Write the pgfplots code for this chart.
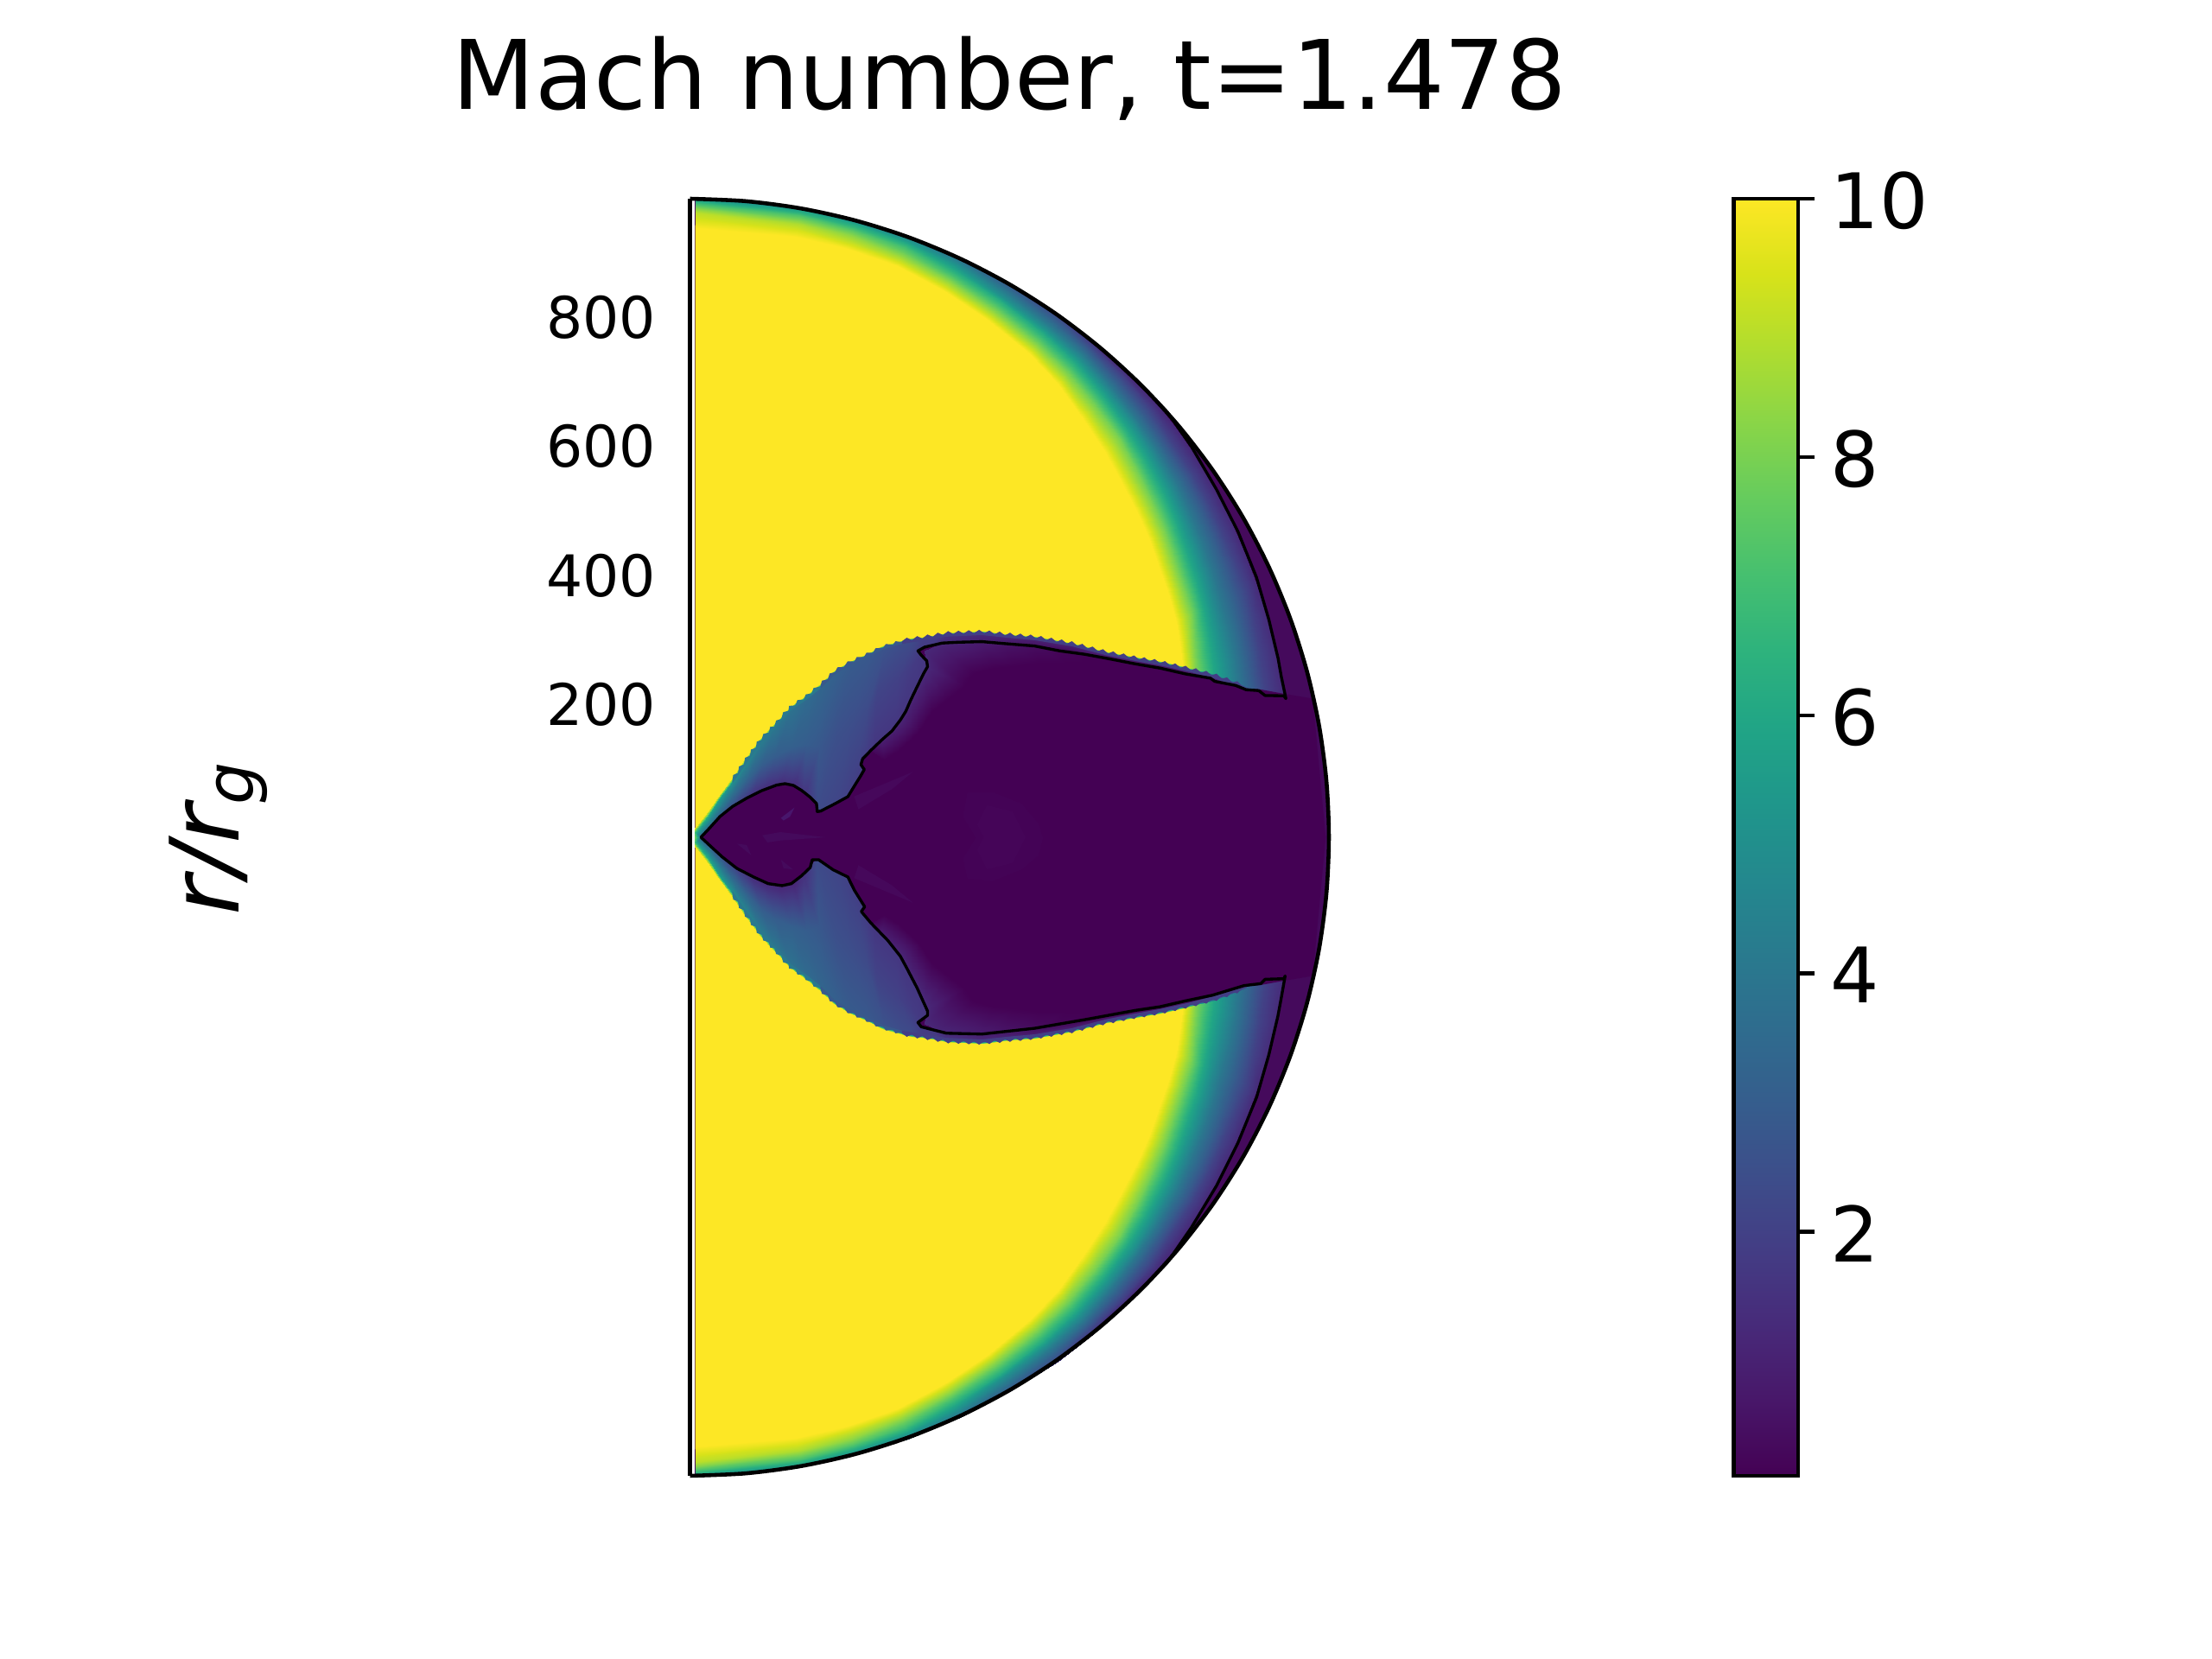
\documentclass[border=0pt]{standalone}
\usepackage{fontspec}
\setmainfont{DejaVu Sans}
\usepackage{pgfplots}
\usepackage{pgfplotstable}
\pgfplotsset{compat=1.18}
\definecolor{vdark}{HTML}{440154}
\definecolor{vbase}{HTML}{450A5C}
\definecolor{vyel}{HTML}{FDE725}

% outline of the domain: polar angle, radius
\pgfplotstableread{
t r
90 990
85 990
80 990
75 990
70 990
65 990
60 990
55 990
50 990
45 990
40 990
35 990
30 990
25 990
20 990
15 990
10 990
5 990
0 990
-5 990
-10 990
-15 990
-20 990
-25 990
-30 990
-35 990
-40 990
-45 990
-50 990
-55 990
-60 990
-65 990
-70 990
-75 990
-80 990
-85 990
-90 990
}\arcT

% region where the Mach number saturates at 10
\pgfplotstableread{
t r
89.5 949
80 949
75 948
70 946
65 938
60 929
55 919
51 909
47 894
43 882
40 871
36 861
33 852
30 842
27 835
24 829
21 818
18 808
13 794
5 780
-5 780
-13 794
-18 808
-21 818
-24 829
-27 835
-30 842
-33 852
-36 861
-40 871
-43 882
-47 894
-51 909
-55 919
-60 929
-65 938
-70 946
-75 948
-80 949
-89.5 949
}\yelT

% shocked ambient shell: polar angle, radius, Mach number
\pgfplotstableread{
t r m
89.5 945 10
89.5 960 9.3
89.5 968 9
89.5 975 8.2
89.5 981 7.3
89.5 985 6.6
89.5 988 6
89.5 992 5.2
80 945 10
80 958 9.3
80 966 8.8
80 973 8
80 979 7.2
80 984 6.4
80 987.5 5.8
80 992 5
75 944 10
75 957 9
75 966 8.3
75 973 7.5
75 979 6.7
75 984 6
75 987.5 5.4
75 992 4.6
70 942 10
70 955 8.8
70 965 7.8
70 973 7
70 979 6.2
70 984 5.5
70 987.5 5
70 992 4.2
65 934 10
65 950 8.4
65 962 7
65 971 6
65 978 5.2
65 983 4.6
65 987 4
65 992 3.3
60 925 10
60 945 8
60 960 6.3
60 969 5
60 976 4.2
60 982 3.6
60 987 3.1
60 992 2.5
55 915 10
55 936 8
55 954 6.2
55 962 5
55 970 4.1
55 978 3.3
55 986 2.6
55 992 1.8
51 905 10
51 928 8
51 948 6
51 956 5
51 966 4
51 976 3
51 985 2
51 992 1
47 890 10
47 917 8
47 938 6
47 947 5
47 957 4
47 968 3
47 980 2
47 990 1.1
43 878 10
43 908 8
43 928 6
43 938 5
43 948 4
43 960 3
43 974 2
43 988 1.2
40 867 10
40 897 8
40 919 6
40 930 5
40 941 4
40 954 3
40 968 2
40 984 1.2
36 857 10
36 885 8
36 908 6
36 920 5
36 932 4
36 948 3
36 962 2
36 980 1.2
33 848 10
33 875 8
33 898 6
33 911 5
33 924 4
33 941 3
33 957 2
33 975 1.25
30 838 10
30 865 8
30 888 6
30 902 5
30 916 4
30 934 3
30 952 2
30 970 1.3
27 831 10
27 857 8
27 879 6
27 893 5
27 908 4
27 928 3
27 948 2
27 966 1.3
24 825 10
24 850 8
24 871 6
24 885 5
24 901 4
24 923 3
24 944 2
24 961 1.3
21 814 10
21 837 8
21 861 6
21 877 5
21 895 4
21 915 3
21 936 2
21 957 1.3
18 804 10
18 825 8
18 852 6
18 870 5
18 889 4
18 908 3
18 929 2
18 953 1.3
13 790 10
13 812 8
13 838 6
13 856 5
13 876 4
13 897 3
13 918 2
13 945 1.3
}\bandT

% dark body behind the bow shock (upper half)
\pgfplotstableread{
x y
4 0.5
7.7 7.6
27.2 32.2
46.6 60.3
66.1 85.8
88.9 119.3
111.6 150.5
131.1 170.6
157.1 199.7
183 217.5
202.5 233.2
225.3 255.5
248 268.9
277.2 282.3
300 293.5
329.2 302.4
364.9 307.8
397.4 313.6
452.6 315.8
494.8 311.3
533.8 307.8
592.2 298
644.2 284.5
689.6 275.6
728.6 268.9
774.1 258.6
813.1 248.8
861.8 231
885 229
923 222
965 215
985 0
985 -2
4 -2
}\bodyT

% shocked gas between bow shock and contact surface
\pgfplotstableread{
x y m
3 1 10
4 0.5 9
10 0.3 7
17 0 4
4 10 10
7.7 7.6 7
12 5 5
17.4 0.4 3
23.5 34.5 10
27.2 32.2 6.2
29 23 4.5
32 10 2.5
43 62.5 10
46.6 60.3 5.6
47 46 4
50 25 2
62.5 88 10
66.1 85.8 5
66 67 3.6
70 40 1.6
85 121.5 10
88.9 119.3 4.6
89 90 3.2
92 52 1.1
108 153 10
111.6 150.5 4.2
112 112 3
114 62 0.9
127.5 173.5 10
131.1 170.6 4
132 126 3
136 68 0.9
154 202.5 10
157.1 199.7 3.8
158 140 3.1
158 67 1
180 220.5 10
183 217.5 3.5
180 145 3
175 55 1.4
200 236.5 10
202.5 233.2 3.3
200 140 2.8
196 33 2.3
223 259 10
225.3 255.5 3.1
225 155 2.5
228 45 2.1
246 272 10
248 268.9 2.9
247 165 2.4
247 55 1.9
275.5 286 10
277.2 282.3 2.8
272 190 2.3
268 90 1.7
298.5 297 10
300 293.5 2.6
290 225 2.1
284 128 1.6
328 306 10
329.2 302.4 2.4
320 245 2
316 160 1.6
344 309 10
345 305 2.3
348 270 1.8
356 225 1.6
359 311 10
360 307 1.9
364 285 1.7
375 262 1.5
385 315 10
385 311 1.8
384 302 1.5
385 292 1.2
397.4 317.6 10
397.4 313.6 1.5
397.4 305 1.3
397.4 292 1.1
452.6 319.8 10
452.6 315.8 1.2
452.6 308 1
452.6 295 0.8
494.8 315.3 10
494.8 311.3 1.1
494.8 304 0.8
494.8 293 0.6
533.8 311.8 10
533.8 307.8 1
533.8 300 0.6
533.8 289 0.4
592.2 302 10
592.2 298 1
592.2 290 0.4
592.2 277 0.2
644.2 288.5 10
644.2 284.5 1
644.2 277 0.3
644.2 269 0.15
689.6 279.6 10
689.6 275.6 1
689.6 269 0.2
689.6 261 0.11
728.6 272.9 10
728.6 268.9 1
728.6 262 0.2
728.6 255 0.11
774.1 262.6 9
774.1 258.6 1.1
774.1 252 0.2
774.1 246 0.11
813.1 252.8 6
813.1 248.8 1.2
813.1 242 0.2
813.1 235 0.11
861.8 235 3.5
861.8 231 1.2
861.8 226 0.2
861.8 220 0.11
}\stripT

% sawtooth cells along the bow shock
\pgfplotstableread{
x y
65.5 86.5
67 96.6
74.5 99.7
76 109.8
83.5 112.9
85.4 123.3
93 126.3
94.5 136
102.2 138.8
103.5 148.3
111.1 151
113.5 160
122.2 162.5
124.5 171.5
130.6 171.1
133.5 181
141.5 183.5
144.5 194
152.5 196
153.6 203.7
163.1 204.5
166.5 212.7
176.2 213.5
179.5 221.5
188.5 223.1
191.5 231.4
202 233.7
202.5 231
183 215
157 197
131 168
111.6 148
89 117
66 83.5
}\teethA
\pgfplotstableread{
x y
202 233.7
204.5 242.8
213.5 245
216.5 254
224.8 256
228.5 263.5
238.5 264.1
244.5 272.9
254.5 272.5
258.5 279.5
269.5 279.5
273.7 286.3
283.5 286.2
287.5 293
299.5 294
303.5 299.7
314.5 298.5
318.5 304
329.2 302.4
329.2 300
300 291.5
277 280
248 266.5
225 253
202.5 231
}\teethB
\pgfplotstableread{
x y
328 303.5
336 309.4
344 305.6
352 311.9
360 308.1
368 314.4
376 310.8
384 317.2
392 313.6
400 319.7
408 315
416 320.3
424 315.7
432 321
440 316.3
448 321.6
456 316.4
464 320.6
472 314.7
480 318.9
488 313
496 317.2
504 311.5
512 315.8
520 310
528 314.3
536 308.4
544 312.1
552 305.7
560 309.4
568 303
576 306.7
584 300.3
592 304
600 297
608 299.9
616 292.8
624 295.7
632 288.7
640 291.6
648 284.8
656 288.2
664 281.6
672 285
680 278.5
688 281.9
696 275.5
704 279.1
712 272.8
720 276.4
728 270
736 273.2
744 266.3
752 269.5
760 262.7
768 265.9
776 259
784 262
792 255
800 258
808 251
816 253.7
824 245.8
832 247.9
840 240
848 242
856 234
862 231
862 228
813 246
774 256.5
728 266.5
689 273.5
644 282.5
592 296
534 305.5
495 309
452 313.5
397 311
365 305.5
329 300
}\teethC

% fade just inside the contact surface
\pgfplotstableread{
x y m
280.5 134.9 0.3
300 120 0.11
296.7 150.5 0.9
325 135 0.11
326 181.8 1.1
355 165 0.11
342.2 213.1 1.1
375 195 0.11
361.7 253.3 1.2
400 215 0.11
368.1 264.4 1.2
425 235 0.11
364 290 1.2
432 245 0.11
385 299 1.1
440 255 0.11
416.9 302.4 1
470 262 0.11
452.6 303.3 0.8
500 265 0.11
488.3 300.2 0.6
540 270 0.11
533.8 296.6 0.4
580 270 0.11
572.8 289 0.2
610 270 0.11
611.7 283.7 0.11
640 268 0.11
}\haloT

% Mach = 1 contour
\pgfplotstableread{
x y
691.2 709.1
739 659.9
777.3 605.2
815.6 539.6
849.1 473.9
877.8 402.9
897 337.2
911.3 277.1
916.1 249.7
923.4 214.9
920.2 219.3
891 219.8
881.3 227.4
861.8 228.7
845.5 235.4
813.1 241.7
806.6 246.6
767.6 253.3
728.6 262.2
689.6 268.9
650.7 276.5
611.7 283.7
572.8 289
533.8 296.6
488.3 300.2
452.6 303.3
416.9 302.4
390.9 301.1
363.6 294.8
353.2 289
358.4 282.3
366.9 273.4
368.1 264.4
361.7 253.3
351.9 233.2
342.2 213.1
334.4 195.2
326 181.8
313 164.8
296.7 150.5
280.5 134.9
267.5 121.5
264.9 112.6
270.1 105
264.2 94.7
254.5 79.1
244.7 63
225.3 52.3
202.5 40.6
197.3 39.8
196 52.3
186.3 62.1
173.3 72.4
160.3 80.4
147.3 83.1
134.3 80.9
111.6 72.4
88.9 61.2
66.1 47.8
46.6 32.2
30.4 14.3
17.4 0.4
17.4 -0.4
30.4 -12.5
49.9 -30.4
72.6 -48.2
98.6 -61.6
121.3 -71.9
142.8 -75
157.1 -71.9
173.3 -59.4
186.3 -46.9
189.5 -34.8
199.3 -34.8
222 -50.5
244.7 -61.6
254.5 -81.7
270.7 -107.7
265.5 -115.2
280.5 -133.1
306.5 -159.9
326 -184.5
335.7 -202.4
351.9 -233.6
368.1 -269.4
368.1 -276.1
353.2 -287.2
358.4 -293.9
397.4 -303.8
452.6 -305.1
533.8 -296.2
611.7 -282.8
689.6 -268.5
728.6 -262.7
767.6 -253.7
809.8 -244.8
858.5 -230
884.5 -226.9
891 -220.2
920.2 -219.3
922.2 -214.9
916 -250
911 -277
897 -337
878 -403
849 -474
816 -540
777 -605
739 -660
691 -709
}\contourT

% colour bar field
\pgfplotstableread{
x y m
0 0.11 0.11
1 0.11 0.11
0 10 10
1 10 10
}\cbarT

\begin{document}
\begin{tikzpicture}[x=1cm,y=1cm]
\useasboundingbox (0,0) rectangle (25.6,19.2);
\node[anchor=base,font=\fontsize{31.6}{36}\selectfont] at (11.685,17.93) {Mach number, t=1.478};
\node[rotate=90,anchor=base,font=\fontsize{31.5}{36}\selectfont\itshape] at (2.767,9.49) {r/r\raisebox{-4.8pt}{\fontsize{22}{24}\selectfont g}};
\begin{axis}[
  at={(7.985cm,2.12cm)}, anchor=south west,
  scale only axis, width=7.395cm, height=14.78cm,
  xmin=0, xmax=990, ymin=-990, ymax=990,
  clip=false,
  axis line style={draw=none},
  xtick=\empty,
  ytick={200,400,600,800},
  major tick length=0pt,
  tick style={draw=none},
  /pgf/number format/assume math mode=true,
  yticklabel style={font=\fontsize{18.9}{22}\selectfont,inner sep=0pt,xshift=-0.39cm,yshift=0.045cm},
  colormap name=viridis,
  point meta min=0.11, point meta max=10,
]
% base disc
\addplot[fill=vbase,draw=none] table[x expr=\thisrow{r}*cos(\thisrow{t}),y expr=\thisrow{r}*sin(\thisrow{t})] {\arcT};
% shell
\addplot[fill=vyel,draw=none] table[x expr=\thisrow{r}*cos(\thisrow{t}),y expr=\thisrow{r}*sin(\thisrow{t})] {\yelT};
\addplot[surf,shader=interp,mesh/cols=8,point meta=explicit] table[x expr=\thisrow{r}*cos(\thisrow{t}),y expr=\thisrow{r}*sin(\thisrow{t}),meta=m] {\bandT};
\addplot[surf,shader=interp,mesh/cols=8,point meta=explicit] table[x expr=\thisrow{r}*cos(\thisrow{t}),y expr=-\thisrow{r}*sin(\thisrow{t}),meta=m] {\bandT};
% dark body
\addplot[fill=vdark,draw=none] table[x=x,y=y] {\bodyT};
\addplot[fill=vdark,draw=none] table[x=x,y expr=-\thisrow{y}] {\bodyT};
% shocked gas
\addplot[surf,shader=interp,mesh/cols=4,point meta=explicit] table[x=x,y=y,meta=m] {\stripT};
\addplot[surf,shader=interp,mesh/cols=4,point meta=explicit] table[x=x,y expr=-\thisrow{y},meta=m] {\stripT};
% sawtooth cells
\addplot[fill={rgb,255:red,42;green,120;blue,142},draw=none] table[x=x,y=y] {\teethA};
\addplot[fill={rgb,255:red,42;green,120;blue,142},draw=none] table[x=x,y expr=-\thisrow{y}] {\teethA};
\addplot[fill={rgb,255:red,56;green,89;blue,140},draw=none] table[x=x,y=y] {\teethB};
\addplot[fill={rgb,255:red,56;green,89;blue,140},draw=none] table[x=x,y expr=-\thisrow{y}] {\teethB};
\addplot[fill={rgb,255:red,67;green,62;blue,133},draw=none] table[x=x,y=y] {\teethC};
\addplot[fill={rgb,255:red,67;green,62;blue,133},draw=none] table[x=x,y expr=-\thisrow{y}] {\teethC};
% inside the contact surface
\addplot[fill=vdark,draw=none,skip coords between index={0}{9},skip coords between index={101}{110}] table[x=x,y=y] {\contourT};
\addplot[surf,shader=interp,mesh/cols=2,point meta=explicit] table[x=x,y=y,meta=m] {\haloT};
\addplot[surf,shader=interp,mesh/cols=2,point meta=explicit] table[x=x,y expr=-\thisrow{y},meta=m] {\haloT};
% faint structures
\addplot[fill={rgb,255:red,68;green,3;blue,86},draw=none] coordinates {(430,70) (469,70) (514,52) (540,21) (547,-1) (540,-28) (514,-50) (469,-68) (430,-64) (423,-33) (443,-1) (423,32)};
\addplot[fill={rgb,255:red,69;green,5;blue,88},draw=none] coordinates {(460,50) (500,40) (520,0) (500,-40) (460,-50) (445,-20) (455,0) (445,20)};
\addplot[fill={rgb,255:red,70;green,8;blue,91},draw=none] coordinates {(254.5,63.4) (345.4,101.4) (313,74.6) (261,43.3)};
\addplot[fill={rgb,255:red,70;green,8;blue,91},draw=none] coordinates {(254.5,-63.4) (345.4,-101.4) (313,-74.6) (261,-43.3)};
\addplot[fill={rgb,255:red,72;green,22;blue,108},draw=none] coordinates {(141,30) (162,46) (155,32) (145,26)};
\addplot[fill=vbase,draw=none] coordinates {(112,3) (140,8) (210,0) (140,-5) (120,-8)};
\addplot[fill=vbase,draw=none] coordinates {(73,-10) (95,-28) (88,-12)};
\addplot[fill=vbase,draw=none] coordinates {(141,-35) (160,-50) (145,-48)};
% contour
\addplot[black,line width=0.95pt,line join=round] table[x=x,y=y] {\contourT};
% white gap beside the axis
\addplot[fill=white,draw=none] coordinates {(0,-990) (7.5,-990) (7.5,990) (0,990)};
% frame
\addplot[black,line width=1.3pt,smooth] table[x expr=\thisrow{r}*cos(\thisrow{t}),y expr=\thisrow{r}*sin(\thisrow{t})] {\arcT};
\addplot[black,line width=1.3pt] coordinates {(0,-990) (0,990)};
\end{axis}
\begin{axis}[
  at={(20.063cm,2.12cm)}, anchor=south west,
  scale only axis, width=0.744cm, height=14.78cm,
  xmin=0, xmax=1, ymin=0.11, ymax=10,
  xtick=\empty,
  ytick={2,4,6,8,10},
  ytick pos=right,
  tick align=outside,
  major tick length=0.195cm,
  tick style={black,line width=1.26pt},
  axis line style={line width=1.26pt},
  axis on top,
  /pgf/number format/assume math mode=true,
  yticklabel style={font=\fontsize{25.2}{29}\selectfont,inner sep=0pt,xshift=0.18cm,yshift=-0.02cm},
  colormap name=viridis,
  point meta min=0.11, point meta max=10,
]
\addplot[surf,shader=interp,mesh/cols=2,point meta=explicit] table[x=x,y=y,meta=m] {\cbarT};
\end{axis}
\end{tikzpicture}
\end{document}
